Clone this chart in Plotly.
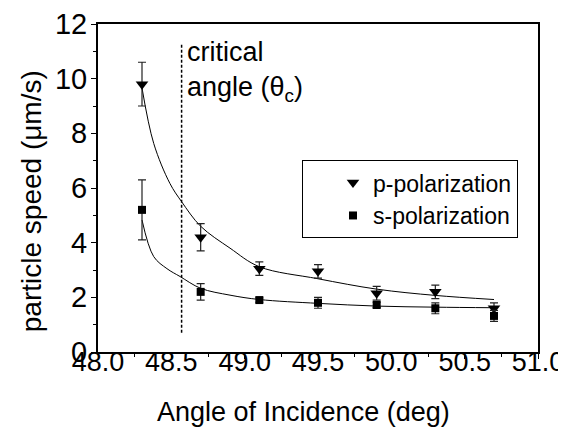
import plotly.graph_objects as go

# --------------------- Data
angle = [48.3, 48.7, 49.1, 49.5, 49.9, 50.3, 50.7]

p_speed = [9.8, 4.2, 3.05, 2.95, 2.15, 2.2, 1.6]
p_err = [0.8, 0.5, 0.25, 0.25, 0.25, 0.25, 0.2]

s_speed = [5.2, 2.2, 1.9, 1.8, 1.72, 1.6, 1.32]
s_err = [1.1, 0.3, 0.08, 0.2, 0.1, 0.2, 0.2]

# fitted curves
p_fit_x = [48.3, 48.38, 48.49, 48.57, 48.7, 48.9, 49.1, 49.5, 49.9, 50.3, 50.7]
p_fit_y = [9.66, 7.63, 6.17, 5.5, 4.6, 3.8, 3.12, 2.68, 2.3, 2.07, 1.92]

s_fit_x = [48.3, 48.38, 48.47, 48.56, 48.7, 48.9, 49.1, 49.5, 49.9, 50.3, 50.7]
s_fit_y = [4.83, 3.49, 3.05, 2.76, 2.33, 2.08, 1.92, 1.78, 1.68, 1.64, 1.62]

critical_angle = 48.57
critical_span = [0.7, 11.3]

x_range = [48.0, 51.0]
y_range = [0, 12]

FONT = "Liberation Sans, Arial, sans-serif"

fig = go.Figure()

# Fit lines
fig.add_trace(go.Scatter(
    x=p_fit_x, y=p_fit_y, mode="lines", showlegend=False,
    line=dict(color="black", width=1, shape="spline")))
fig.add_trace(go.Scatter(
    x=s_fit_x, y=s_fit_y, mode="lines", showlegend=False,
    line=dict(color="black", width=1, shape="spline")))

# Critical angle marker
fig.add_trace(go.Scatter(
    x=[critical_angle, critical_angle], y=critical_span, mode="lines",
    showlegend=False, line=dict(color="black", width=1.5, dash="3px,2px")))

# Data points
fig.add_trace(go.Scatter(
    x=angle, y=p_speed, mode="markers", name="p-polarization",
    marker=dict(symbol="triangle-down", size=11, color="black"),
    error_y=dict(type="data", array=p_err, color="#222222",
                 thickness=1.2, width=4)))
fig.add_trace(go.Scatter(
    x=angle, y=s_speed, mode="markers", name="s-polarization",
    marker=dict(symbol="square", size=8, color="black"),
    error_y=dict(type="data", array=s_err, color="#222222",
                 thickness=1.2, width=4)))

fig.add_annotation(
    x=48.595, y=11.6, xref="x", yref="y", xanchor="left", yanchor="top",
    text="critical<br>angle (θ<sub>c</sub>)", showarrow=False, align="left",
    font=dict(family=FONT, size=27, color="black"))

# Axis titles (page body has an 8px margin, so the figure is 558x422)
fig.add_annotation(
    x=0.483, y=-0.183, xref="paper", yref="paper",
    xanchor="center", yanchor="middle", showarrow=False,
    text="Angle of Incidence (deg)",
    font=dict(family=FONT, size=27, color="black"))
fig.add_annotation(
    x=-0.119, y=0.46, xref="paper", yref="paper", textangle=-90,
    xanchor="center", yanchor="middle", showarrow=False,
    text="particle speed (μm/s)",
    font=dict(family=FONT, size=28, color="black"))

# Main axes: frame, ticks, no labels
fig.update_xaxes(
    range=x_range, dtick=0.5, automargin=False, showticklabels=False,
    domain=[0.0287, 1],
    showline=True, linecolor="black", linewidth=1.5, mirror=True,
    ticks="outside", ticklen=5, tickcolor="black", tickwidth=1.2,
    minor=dict(dtick=0.25, ticks="outside", ticklen=3, tickcolor="black"),
    showgrid=False, zeroline=False)

fig.update_yaxes(
    range=y_range, dtick=2, automargin=False, showticklabels=False,
    showline=True, linecolor="black", linewidth=1.5, mirror=True,
    ticks="outside", ticklen=5, tickcolor="black", tickwidth=1.2,
    minor=dict(dtick=1, ticks="outside", ticklen=3, tickcolor="black"),
    showgrid=False, zeroline=False)

fig.update_layout(
    width=558, height=422,
    margin=dict(l=77, r=28, t=16, b=78),
    plot_bgcolor="white", paper_bgcolor="white",
    # label-only axes, sitting close to the frame like the original
    xaxis2=dict(
        range=x_range, dtick=0.5, tickformat=".1f", overlaying="x",
        anchor="free", position=0.027, side="bottom", automargin=False,
        showline=False, ticks="", showgrid=False, zeroline=False,
        ticklabeloverflow="allow",
        tickfont=dict(family=FONT, size=27, color="black")),
    yaxis2=dict(
        range=y_range, dtick=2, overlaying="y",
        anchor="free", position=0.005, side="left", automargin=False,
        showline=False, ticks="", showgrid=False, zeroline=False,
        ticklabeloverflow="allow",
        tickfont=dict(family=FONT, size=29, color="black")),
    legend=dict(
        x=0.479, y=0.585, xanchor="left", yanchor="top",
        bordercolor="black", borderwidth=1, bgcolor="white",
        indentation=30,
        font=dict(family=FONT, size=23, color="black")))

# invisible trace so the label axes are drawn
fig.add_trace(go.Scatter(
    x=x_range, y=y_range, xaxis="x2", yaxis="y2", mode="markers",
    marker=dict(opacity=0), showlegend=False, hoverinfo="skip"))

fig.write_html("out.html")
